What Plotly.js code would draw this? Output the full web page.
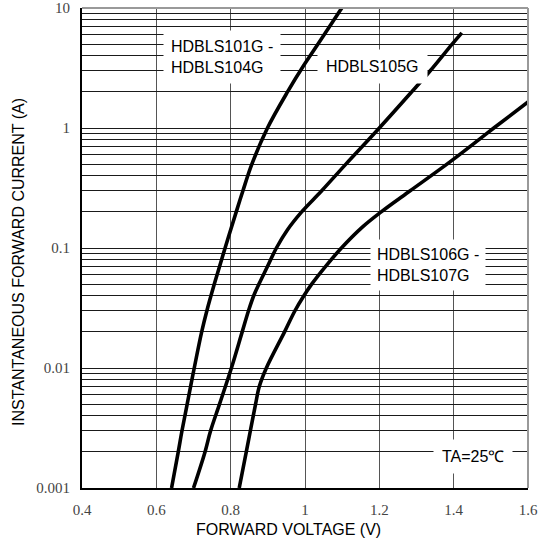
<!DOCTYPE html>
<html>
<head>
<meta charset="utf-8">
<script src="https://cdn.plot.ly/plotly-3.0.1.min.js"></script>
<style>html,body{margin:0;padding:0;background:#fff;}#chart{width:542px;height:542px;}</style>
</head>
<body>
<div id="chart"></div>
<script>
// Curve: HDBLS101G - HDBLS104G
const v1 = [0.641,0.659,0.669,0.683,0.702,0.722,0.736,0.756,0.785,0.815,0.833,0.857,0.899,0.953,0.996,1.035,1.099];
const i1 = [0.001,0.002,0.003,0.005,0.01,0.02,0.03,0.05,0.1,0.2,0.3,0.5,1,2,3.3,5,10];
// Curve: HDBLS105G
const v2 = [0.700,0.731,0.746,0.770,0.802,0.831,0.848,0.862,0.876,0.899,0.923,0.953,0.991,1.045,1.110,1.200,1.287,1.337,1.396,1.422];
const i2 = [0.001,0.002,0.003,0.005,0.01,0.02,0.03,0.04,0.05,0.07,0.1,0.142,0.2,0.3,0.5,1,2,3,5,6.2];
// Curve: HDBLS106G - HDBLS107G
const v3 = [0.823,0.842,0.853,0.867,0.877,0.896,0.945,0.973,0.997,1.018,1.055,1.098,1.155,1.205,1.283,1.382,1.468,1.508,1.600];
const i3 = [0.001,0.002,0.003,0.005,0.007,0.01,0.02,0.03,0.04,0.05,0.07,0.1,0.15,0.2,0.3,0.5,0.8,1,1.65];

const xTickVals = [0.4,0.6,0.8,1.0,1.2,1.4,1.6];
const xTickText = ['0.4','0.6','0.8','1','1.2','1.4','1.6'];
const yTickVals = [0.001,0.002,0.003,0.004,0.005,0.006,0.007,0.008,0.009,
                   0.01,0.02,0.03,0.04,0.05,0.06,0.07,0.08,0.09,
                   0.1,0.2,0.3,0.4,0.5,0.6,0.7,0.8,0.9,
                   1,2,3,4,5,6,7,8,9,10];
const yTickText = ['0.001','','','','','','','','',
                   '0.01','','','','','','','','',
                   '0.1','','','','','','','','',
                   '1','','','','','','','','','10'];

const seriesNames = ['HDBLS101G - HDBLS104G','HDBLS105G','HDBLS106G - HDBLS107G'];
const lineStyle = {color:'#000', width:3.6, shape:'spline', smoothing:1};

const traces = [
  {x:v1, y:i1, name:seriesNames[0], mode:'lines', line:lineStyle},
  {x:v2, y:i2, name:seriesNames[1], mode:'lines', line:lineStyle},
  {x:v3, y:i3, name:seriesNames[2], mode:'lines', line:lineStyle}
];

const sans = 'Liberation Sans, Arial, sans-serif';
const serif = 'Liberation Serif, Times New Roman, serif';
const labelFont = {family:sans, size:16, color:'#000'};

const layout = {
  width:542, height:542,
  margin:{l:82, r:14, t:8, b:54, pad:0},
  paper_bgcolor:'#fff', plot_bgcolor:'#fff',
  showlegend:false,
  xaxis:{
    range:[0.4,1.6], tickmode:'array', tickvals:xTickVals, ticktext:xTickText,
    showgrid:true, gridcolor:'#555', gridwidth:1, zeroline:false,
    showline:true, linecolor:'#000', linewidth:2, mirror:false,
    ticks:'outside', ticklen:7, tickcolor:'rgba(0,0,0,0)',
    tickfont:{family:serif, size:15, color:'#444'}
  },
  yaxis:{
    type:'log', range:[-3,1], tickmode:'array', tickvals:yTickVals, ticktext:yTickText,
    showgrid:true, gridcolor:'#1a1a1a', gridwidth:1, zeroline:false,
    showline:true, linecolor:'#000', linewidth:2, mirror:false,
    ticks:'outside', ticklen:7, tickcolor:'rgba(0,0,0,0)',
    tickfont:{family:serif, size:15, color:'#444'}
  },
  shapes:[
    {type:'line', xref:'paper', yref:'paper', x0:0, x1:1, y0:1, y1:1, line:{color:'#999', width:2}, layer:'above'},
    {type:'line', xref:'paper', yref:'paper', x0:1, x1:1, y0:0, y1:1, line:{color:'#999', width:2}, layer:'above'}
  ],
  annotations:[
    {x:0.778, y:0.59, xref:'x', yref:'y', text:'HDBLS101G -<br>HDBLS104G', showarrow:false,
     align:'left', xanchor:'center', yanchor:'middle', bgcolor:'#fff', borderpad:7, font:labelFont},
    {x:1.181, y:0.513, xref:'x', yref:'y', text:'HDBLS105G', showarrow:false,
     xanchor:'center', yanchor:'middle', bgcolor:'#fff', borderpad:8, font:labelFont},
    {x:1.330, y:-1.1425, xref:'x', yref:'y', text:'HDBLS106G -<br>HDBLS107G', showarrow:false,
     align:'left', xanchor:'center', yanchor:'middle', bgcolor:'#fff', borderpad:6, font:labelFont},
    {x:1.451, y:-2.737, xref:'x', yref:'y', text:'TA=25℃', showarrow:false,
     xanchor:'center', yanchor:'middle', bgcolor:'#fff', borderpad:8, font:labelFont},
    {x:0.462, y:-0.0865, xref:'paper', yref:'paper', text:'FORWARD VOLTAGE (V)', showarrow:false,
     xanchor:'center', yanchor:'middle', font:labelFont},
    {x:-0.1413, y:0.471, xref:'paper', yref:'paper', text:'INSTANTANEOUS FORWARD CURRENT (A)', showarrow:false,
     textangle:-90, xanchor:'center', yanchor:'middle', font:labelFont}
  ]
};

Plotly.newPlot('chart', traces, layout, {displayModeBar:false, staticPlot:true});
</script>
</body>
</html>
